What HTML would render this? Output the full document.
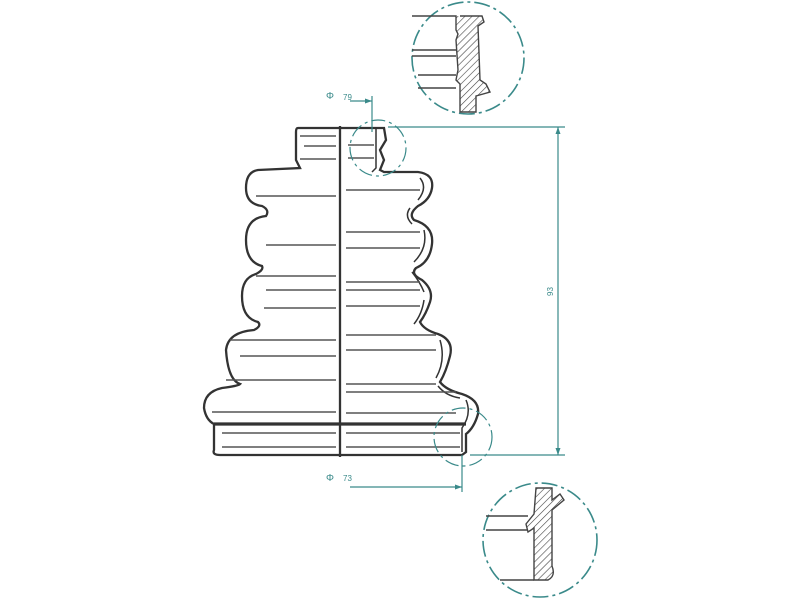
<!DOCTYPE html>
<html><head><meta charset="utf-8"><style>html,body{margin:0;padding:0;background:#fff}svg{display:block}</style></head>
<body>
<svg width="800" height="600" viewBox="0 0 800 600" xmlns="http://www.w3.org/2000/svg">
<defs>
<pattern id="h" width="5" height="5" patternUnits="userSpaceOnUse" patternTransform="rotate(45)"><line x1="0" y1="0" x2="0" y2="5" stroke="#444" stroke-width="1.2"/></pattern>
</defs>
<g fill="none" stroke="#333" stroke-width="2.3">
<path d="M340 128 L298 128 Q296 128 296 132 L296 160 Q298 164 300 168 L258 170 Q246 172 246 188 Q246 204 262 206 Q270 210 266 216 Q246 218 246 240 Q246 262 262 266 Q264 270 256 274 Q242 278 242 296 Q242 318 258 322 Q262 326 254 330 Q228 332 226 350 Q228 380 240 384 Q238 386 222 388 Q204 392 204 408 Q206 420 214 424 L214 450 Q212 455 220 455 L340 455"/>
<path d="M340 128 L384 128 L386 140 L380 150 L384 160 L380 170 L384 172 L418 172 Q434 174 432 188 Q430 200 418 206 Q408 214 414 220 Q434 226 432 244 Q430 262 416 268 Q410 274 422 280 Q434 290 430 302 Q426 314 420 322 Q424 330 438 334 Q454 340 450 356 Q446 372 440 382 Q446 390 462 394 Q480 400 478 414 Q474 428 466 434 L466 452 L462 455 L340 455"/>
<path d="M376 128 L376 168 L372 172 M420 178 Q428 188 418 200 M410 208 Q404 216 412 224 M424 230 Q428 248 414 262 M412 272 Q420 282 424 292 M424 300 Q422 314 414 324 M440 340 Q446 360 436 378 M438 386 Q446 396 460 398 M466 400 Q472 414 462 428 L462 452" stroke-width="1.5"/>
<line x1="340" y1="126" x2="340" y2="457"/>
<line x1="214" y1="424" x2="466" y2="424" stroke-width="3.2"/>
</g>
<g stroke="#555" stroke-width="1.5">
<line x1="300" y1="136" x2="336" y2="136"/><line x1="304" y1="146" x2="336" y2="146"/><line x1="300" y1="159" x2="336" y2="159"/>
<line x1="348" y1="145" x2="374" y2="145"/><line x1="348" y1="158" x2="374" y2="158"/>
<line x1="256" y1="196" x2="336" y2="196"/><line x1="346" y1="190" x2="420" y2="190"/>
<line x1="266" y1="245" x2="336" y2="245"/><line x1="346" y1="232" x2="420" y2="232"/><line x1="346" y1="248" x2="420" y2="248"/>
<line x1="256" y1="276" x2="336" y2="276"/><line x1="346" y1="282" x2="420" y2="282"/>
<line x1="266" y1="290" x2="336" y2="290"/><line x1="346" y1="290" x2="420" y2="290"/>
<line x1="264" y1="308" x2="336" y2="308"/><line x1="346" y1="306" x2="420" y2="306"/>
<line x1="230" y1="340" x2="336" y2="340"/><line x1="346" y1="335" x2="436" y2="335"/>
<line x1="240" y1="356" x2="336" y2="356"/><line x1="346" y1="350" x2="436" y2="350"/>
<line x1="226" y1="380" x2="336" y2="380"/><line x1="346" y1="384" x2="436" y2="384"/>
<line x1="346" y1="392" x2="456" y2="392"/>
<line x1="212" y1="412" x2="336" y2="412"/><line x1="346" y1="413" x2="456" y2="413"/>
<line x1="222" y1="433" x2="336" y2="433"/><line x1="346" y1="433" x2="460" y2="433"/>
<line x1="222" y1="447" x2="336" y2="447"/><line x1="346" y1="447" x2="460" y2="447"/>
</g>
<g stroke="#3a8a8a" stroke-width="1.2" fill="none">
<line x1="372" y1="96" x2="372" y2="132"/><line x1="350" y1="101" x2="372" y2="101"/>
<line x1="388" y1="127" x2="565" y2="127"/>
<line x1="558" y1="127" x2="558" y2="455"/>
<line x1="470" y1="455" x2="565" y2="455"/>
<line x1="462" y1="455" x2="462" y2="492"/><line x1="350" y1="487" x2="462" y2="487"/>
<circle cx="378" cy="148" r="28" stroke-dasharray="14 4 3 4"/>
<circle cx="463" cy="437" r="29" stroke-dasharray="14 4 3 4"/>
<circle cx="468" cy="58" r="56" stroke-dasharray="16 4 3 4" stroke-width="1.6"/>
<circle cx="540" cy="540" r="57" stroke-dasharray="16 4 3 4" stroke-width="1.6"/>
</g>
<g fill="#3a8a8a">
<path d="M372 101 l-7 -2.5 v5 z"/><path d="M462 487 l-7 -2.5 v5 z"/>
<path d="M558 127 l-2.5 7 h5 z"/><path d="M558 455 l-2.5 -7 h5 z"/>
</g>
<g fill="#3a8a8a" font-family="Liberation Sans, sans-serif" font-size="10">
<text x="326" y="99">Φ</text><text x="343" y="100" font-size="8">79</text>
<text x="326" y="481">Φ</text><text x="343" y="481" font-size="8">73</text>
<text x="0" y="0" font-size="8" transform="translate(553,296) rotate(-90)">93</text>
</g>
<g stroke="#444" stroke-width="1.4">
<path d="M412 16 L456 16 L456 30 L458 34 L456 40 L458 70 L456 80 L460 84 L460 112 L476 112 L476 96 L490 92 L486 84 L480 80 L478 26 L484 22 L482 16 L460 16" fill="url(#h)"/>
<line x1="412" y1="50" x2="456" y2="50"/><line x1="412" y1="56" x2="456" y2="56"/>
<line x1="418" y1="75" x2="456" y2="75"/><line x1="418" y1="88" x2="456" y2="88"/>
<path d="M536 488 L552 488 L552 500 L560 494 L564 500 L552 510 L552 566 Q556 576 548 580 L534 580 L534 528 L528 532 L526 524 L534 514 Z" fill="url(#h)"/>
<line x1="486" y1="516" x2="528" y2="516"/><line x1="486" y1="530" x2="528" y2="530"/>
<line x1="500" y1="580" x2="534" y2="580"/>
</g>
</svg>
</body></html>
